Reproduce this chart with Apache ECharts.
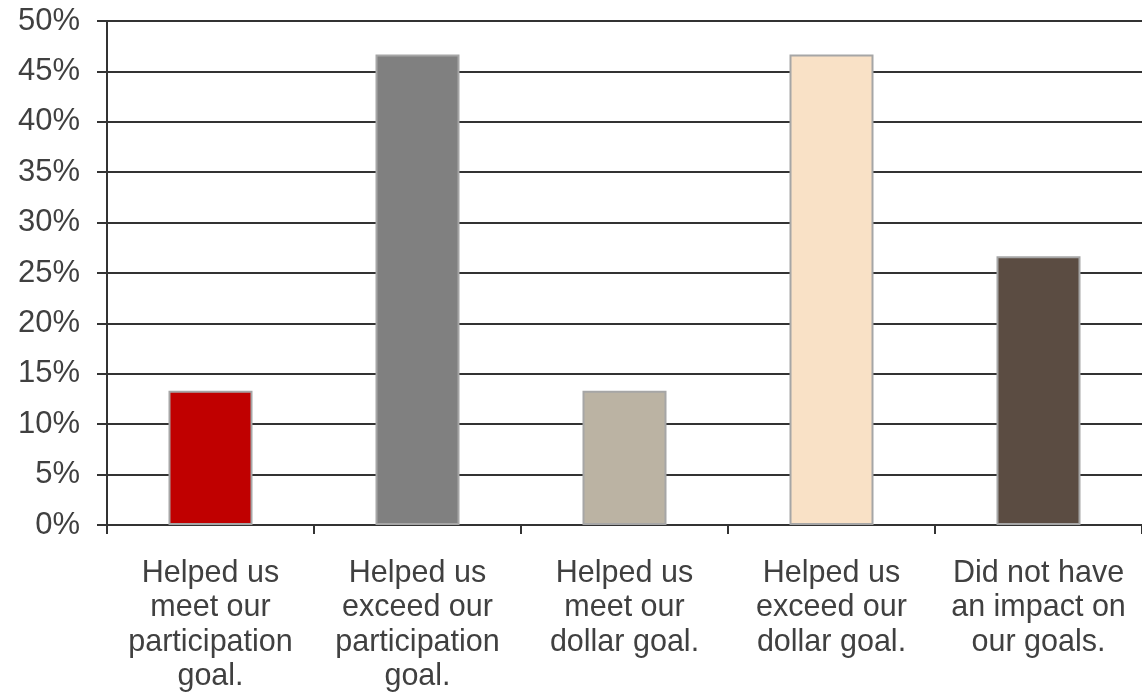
<!DOCTYPE html>
<html>
<head>
<meta charset="utf-8">
<script src="https://cdn.jsdelivr.net/npm/echarts@6/dist/echarts.min.js"></script>
<style>
  html, body { margin: 0; padding: 0; background: #fff; }
  #chart { width: 1142px; height: 694px; }
</style>
</head>
<body>
<div id="chart"></div>
<script>
// Survey responses: effect on campaign goals
const categories = [
  'Helped us\nmeet our\nparticipation\ngoal.',
  'Helped us\nexceed our\nparticipation\ngoal.',
  'Helped us\nmeet our\ndollar goal.',
  'Helped us\nexceed our\ndollar goal.',
  'Did not have\nan impact on\nour goals.'
];
const shares = [13.33, 46.67, 13.33, 46.67, 26.67];
const barColors = ['#C00000', '#808080', '#BBB3A3', '#F9E1C6', '#5B4C42'];

const chart = echarts.init(document.getElementById('chart'));
chart.setOption({
  animation: false,
  grid: { left: 107, top: 21, width: 1040, height: 510 },
  xAxis: {
    type: 'category',
    data: categories,
    axisLine: { show: true, lineStyle: { color: '#333', width: 2 } },
    axisTick: { show: true, length: 9, alignWithLabel: false, lineStyle: { color: '#333', width: 2 } },
    axisLabel: {
      interval: 0,
      margin: 31,
      color: '#404040',
      fontFamily: 'Liberation Sans, Arial, sans-serif',
      fontSize: 30.5,
      lineHeight: 34.5
    }
  },
  yAxis: {
    type: 'value',
    min: 0,
    max: 50,
    interval: 5,
    axisLine: { show: true, lineStyle: { color: '#333', width: 2 } },
    axisTick: { show: true, length: 10, lineStyle: { color: '#333', width: 2 } },
    splitLine: { show: true, lineStyle: { color: '#333', width: 2 } },
    axisLabel: {
      formatter: '{value}%',
      margin: 27,
      color: '#404040',
      fontFamily: 'Liberation Sans, Arial, sans-serif',
      fontSize: 31
    }
  },
  series: [{
    type: 'bar',
    barWidth: 84,
    data: shares.map((v, i) => ({
      value: v,
      itemStyle: { color: barColors[i], borderColor: '#A6A6A6', borderWidth: 2 }
    }))
  }]
});
</script>
</body>
</html>
